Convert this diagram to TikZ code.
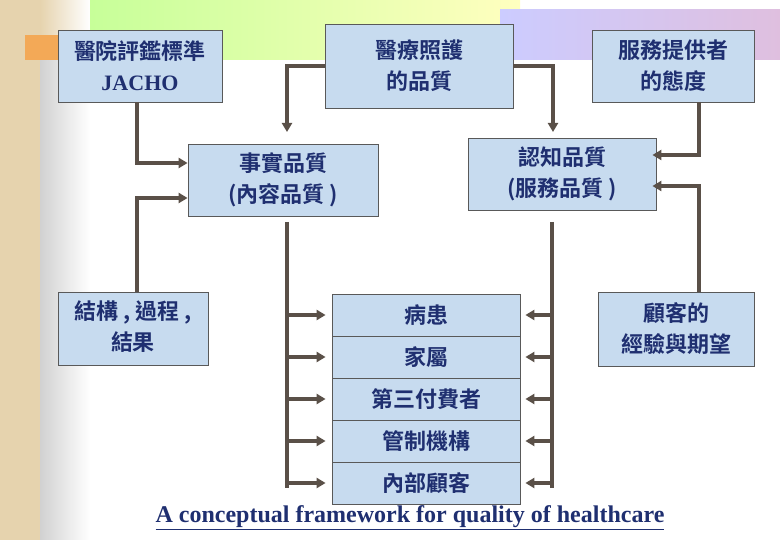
\documentclass[tikz,border=0pt]{standalone}
\usepackage{fontspec}
\setmainfont{Liberation Serif}
\newfontfamily\cjk{Noto Sans CJK TC Bold}
\usetikzlibrary{arrows.meta,calc}
\definecolor{boxfill}{HTML}{C7DBEF}
\definecolor{navy}{HTML}{1F2F70}
\definecolor{lnc}{HTML}{5A5048}
\definecolor{beige}{HTML}{E6D3AE}
\tikzset{
  box/.style={draw=black!65,line width=0.8pt,fill=boxfill,text=navy,align=center,font=\cjk\fontsize{22}{31}\selectfont,inner sep=0pt},
  ln/.style={draw=lnc,line width=3.2pt},
  arr/.style={draw=lnc,line width=3.2pt,-{Triangle[length=9pt,width=10pt]}}
}
\begin{document}
\begin{tikzpicture}[x=1pt,y=-1pt]
\useasboundingbox (0,0) rectangle (780,540);
\fill[white] (0,0) rectangle (780,540);
% background decoration
\fill[beige] (0,0) rectangle (40,540);
\shade[left color=black!18,right color=white] (40,60) rectangle (90,540);
\shade[left color=beige,right color=white] (40,0) rectangle (90,60);
\shade[left color=yellow!45!green!40,right color=yellow!25] (90,0) rectangle (520,60);
\shade[left color=blue!20!white,right color=violet!25!white] (500,10) rectangle (780,60);
\fill[orange!50!beige] (25,35) rectangle (58,60);
% boxes
\node[box,minimum width=164pt,minimum height=72pt] (jacho) at (140,66) {醫院評鑑標準\\{\rmfamily\bfseries JACHO}};
\node[box,minimum width=188pt,minimum height=84pt] (care) at (419,66) {醫療照護\\的品質};
\node[box,minimum width=162pt,minimum height=72pt] (prov) at (673,66) {服務提供者\\的態度};
\node[box,minimum width=190pt,minimum height=72pt] (fact) at (283,180) {事實品質\\(內容品質 )};
\node[box,minimum width=188pt,minimum height=72pt] (perc) at (562,174) {認知品質\\(服務品質 )};
\node[box,minimum width=150pt,minimum height=73pt] (struct) at (133,328.5) {\raisebox{6pt}{\begin{tabular}{@{}c@{}}結構 , 過程 ,\\[0pt]結果\end{tabular}}};
\node[box,minimum width=156pt,minimum height=74pt] (cust) at (676,329) {顧客的\\經驗與期望};
\foreach \i/\t in {1/病患,2/家屬,3/第三付費者,4/管制機構,5/內部顧客}{
  \node[box,minimum width=188pt,minimum height=42pt] (r\i) at (426,273+42*\i) {\t};
}
% connectors
\coordinate (jb) at (137,102);
\draw[arr] (jb) |- (fact.west |- 0,163);
\coordinate (sb) at (137,292);
\draw[arr] (sb) |- (fact.west |- 0,198);
\coordinate (cl) at (287,66);
\coordinate (cr) at (553,66);
\draw[arr] (care.west) -- (cl) -- (287,132);
\draw[arr] (care.east) -- (cr) -- (553,132);
\coordinate (pb) at (699,102);
\draw[arr] (pb) |- ([xshift=-4pt]perc.east |- 0,155);
\coordinate (ct) at (699,292);
\draw[arr] (ct) |- ([xshift=-4pt]perc.east |- 0,186);
\coordinate (bl) at (287,222);
\coordinate (br) at (552,222);
\draw[ln] (bl) -- (287,487.5);
\draw[ln] (br) -- (552,487.5);
\foreach \i in {1,...,5}{
  \draw[arr] (bl |- r\i.west) -- ([xshift=-6pt]r\i.west);
  \draw[arr] (br |- r\i.east) -- ([xshift=5pt]r\i.east);
}
\node[text=navy,font=\bfseries\fontsize{24}{28}\selectfont,inner sep=0pt] (cap) at (410,518) {\underline{A conceptual framework for quality of healthcare}};
\end{tikzpicture}
\end{document}
